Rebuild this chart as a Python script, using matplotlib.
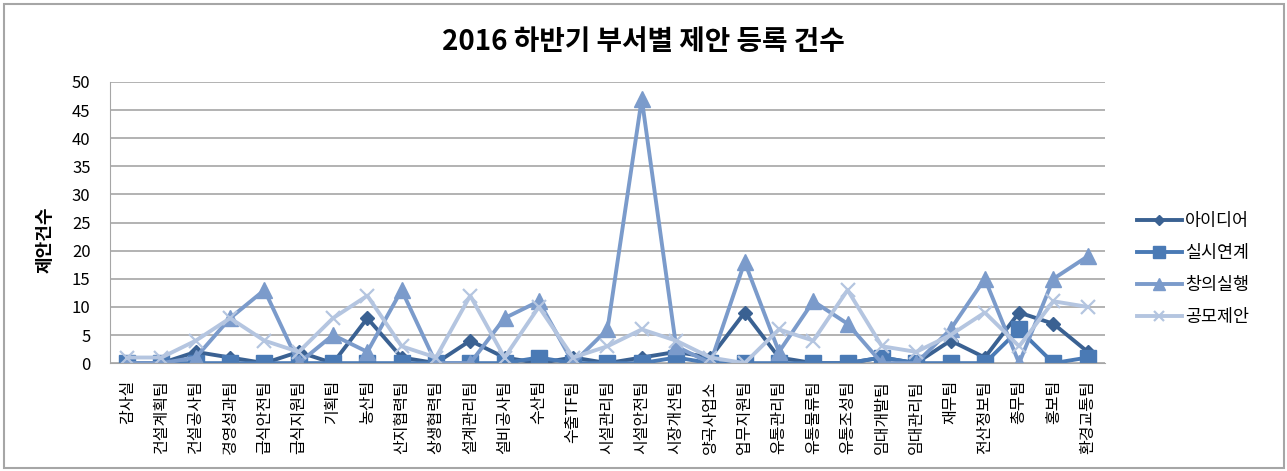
import matplotlib.pyplot as plt
import matplotlib as mpl
from matplotlib.patches import Rectangle

mpl.rcParams['font.family'] = ['Noto Sans CJK KR', 'DejaVu Sans']

cats = ['감사실', '건설계획팀', '건설공사팀', '경영성과팀', '급식안전팀', '급식지원팀',
        '기획팀', '농산팀', '산지협력팀', '상생협력팀', '설계관리팀', '설비공사팀',
        '수산팀', '수출TF팀', '시설관리팀', '시설안전팀', '시장개선팀', '양곡사업소',
        '업무지원팀', '유통관리팀', '유통물류팀', '유통조성팀', '임대개발팀', '임대관리팀',
        '재무팀', '전산정보팀', '총무팀', '홍보팀', '환경교통팀']

idea = [0, 0, 2, 1, 0, 2, 0, 8, 1, 0, 4, 1, 0, 1, 0, 1, 2, 1, 9, 1, 0, 0, 1, 0, 4, 1, 9, 7, 2]
linked = [0, 0, 0, 0, 0, 0, 0, 0, 0, 0, 0, 0, 1, 0, 0, 0, 1, 0, 0, 0, 0, 0, 1, 0, 0, 0, 6, 0, 1]
creative = [0, 0, 1, 8, 13, 0, 5, 2, 13, 0, 0, 8, 11, 0, 6, 47, 3, 0, 18, 2, 11, 7, 0, 0, 6, 15, 0, 15, 19]
contest = [1, 1, 4, 8, 4, 2, 8, 12, 3, 1, 12, 1, 10, 1, 3, 6, 4, 1, 0, 6, 4, 13, 3, 2, 5, 9, 3, 11, 10]

fig = plt.figure(figsize=(12.87, 4.71), dpi=100)
ax = fig.add_axes([0.0855, 0.229, 0.773, 0.597])

x = range(len(cats))
ax.plot(x, idea, color='#3a6192', lw=2.8, marker='D', ms=7, label='아이디어')
ax.plot(x, linked, color='#4a7ab5', lw=2.8, marker='s', ms=11, label='실시연계')
ax.plot(x, creative, color='#7b9bcb', lw=2.8, marker='^', ms=11, label='창의실행')
ax.plot(x, contest, color='#b4c5e0', lw=2.8, marker='x', ms=10, mew=1.6, label='공모제안')

ax.set_xlim(-0.5, len(cats) - 0.5)
ax.set_ylim(0, 50)
ax.set_yticks(range(0, 51, 5))
ax.set_xticks(list(x))
ax.set_xticklabels(cats, rotation=90, fontsize=11.5)
ax.tick_params(axis='x', length=0, pad=12)
ax.tick_params(axis='y', length=0, pad=14, labelsize=12)
ax.yaxis.grid(True, color='#a6a6a6', lw=1.2)
ax.set_axisbelow(True)
for s in ['top', 'right']:
    ax.spines[s].set_visible(False)
ax.spines['left'].set_color('#a6a6a6')
ax.spines['bottom'].set_color('#a6a6a6')

fig.text(0.5, 1 - 42 / 471, '2016 하반기 부서별 제안 등록 건수', ha='center', va='center',
         fontsize=20, fontweight='bold')
fig.text(45 / 1287, 1 - 240 / 471, '제안건수', rotation=90, ha='center', va='center',
         fontsize=13, fontweight='bold')

fig.legend(loc='center left', bbox_to_anchor=(1121 / 1287, 1 - 269 / 471), frameon=False,
           fontsize=12.5, handlelength=2.6, labelspacing=0.8, handletextpad=0.2,
           markerscale=0.75)

fig.patches.append(Rectangle((4 / 1287, 3 / 471), 1280 / 1287, 464 / 471, transform=fig.transFigure,
                             fill=False, edgecolor='#a6a6a6', lw=1.5))

fig.savefig('out.png', dpi=100)
